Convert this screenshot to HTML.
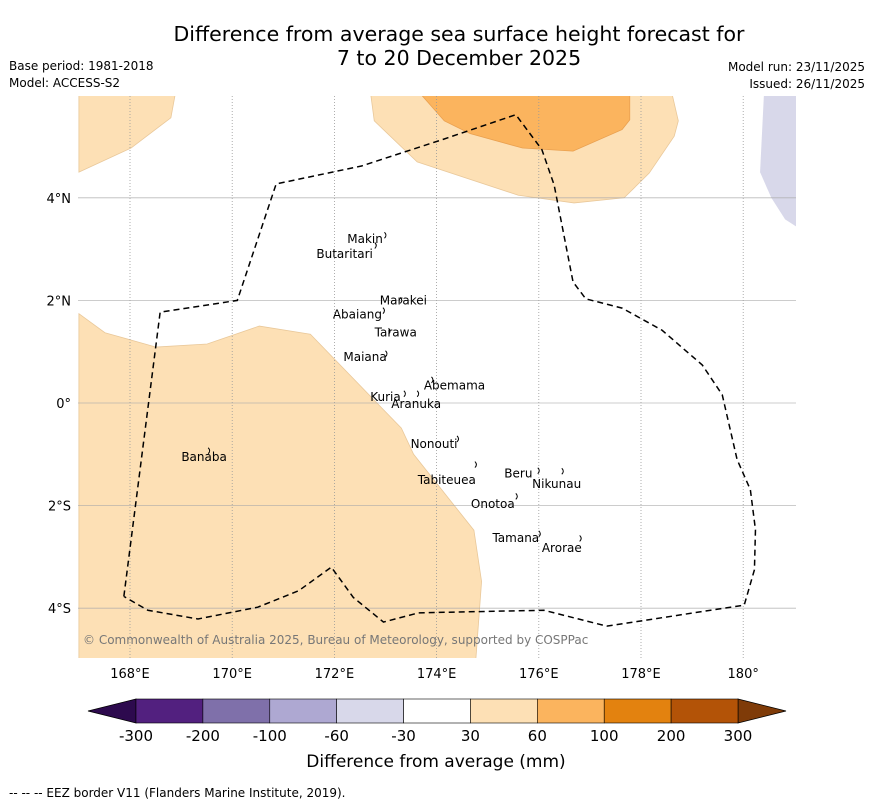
<!DOCTYPE html>
<html><head><meta charset="utf-8"><style>
html,body{margin:0;background:#fff;overflow:hidden;width:873px;height:804px;font-family:"DejaVu Sans","Liberation Sans",sans-serif}
svg{display:block}
svg text{font-family:"DejaVu Sans","Liberation Sans",sans-serif}
</style></head><body>
<svg id="c" width="873" height="804" viewBox="0 0 873 804" xmlns="http://www.w3.org/2000/svg">
<text x="459" y="41" font-size="20.5" text-anchor="middle">Difference from average sea surface height forecast for</text>
<text x="459" y="65" font-size="20.5" text-anchor="middle">7 to 20 December 2025</text>
<text x="9" y="70" font-size="12">Base period: 1981-2018</text>
<text x="9" y="87" font-size="12">Model: ACCESS-S2</text>
<text x="865" y="71" font-size="12" text-anchor="end">Model run: 23/11/2025</text>
<text x="865" y="88" font-size="12" text-anchor="end">Issued: 26/11/2025</text>
<defs><clipPath id="mc"><rect x="78" y="96" width="718" height="562"/></clipPath></defs>
<g id="map" clip-path="url(#mc)"></g>
<g id="axes"></g>
<g id="cbar"></g>
<text x="436" y="767" font-size="17" text-anchor="middle">Difference from average (mm)</text>
<text x="9" y="797" font-size="12">--  --  -- EEZ border V11 (Flanders Marine Institute, 2019).</text>
</svg>
<script>
const lonTicks=[168,170,172,174,176,178,180];
const lonLabels=["168°E","170°E","172°E","174°E","176°E","178°E","180°"];
const latTicks=[4,2,0,-2,-4];
const latLabels=["4°N","2°N","0°","2°S","4°S"];
const cbLevels=["-300","-200","-100","-60","-30","30","60","100","200","300"];
const cbColors=["#52207f","#7f70aa","#aea8d2","#d8d8ea","#ffffff","#fde0b5","#fbb45e","#e3820f","#b35307"];
const polyLight1=[[167,1.74],[167.51,1.37],[168.51,1.09],[169.51,1.15],[170.53,1.5],[171.53,1.34],[173.31,-0.49],[173.55,-1.0],[174.73,-2.48],[174.88,-3.48],[174.76,-5.1],[167,-5.1]];
const polyLight2=[[167,4.5],[168.02,4.97],[168.8,5.56],[168.9,6.1],[167,6.1]];
const polyLight3=[[172.7,6.1],[172.78,5.5],[173.62,4.7],[175.6,4.05],[176.69,3.9],[177.67,4.0],[178.16,4.48],[178.65,5.2],[178.73,5.5],[178.59,6.1]];
const polyOrange=[[173.62,6.1],[174.15,5.5],[174.66,5.25],[175.68,4.97],[176.67,4.91],[177.63,5.33],[177.78,5.52],[177.78,6.1]];
const polyBlue=[[181.1,6.1],[180.41,6.1],[180.33,4.5],[180.55,4.0],[180.82,3.58],[181.1,3.4]];
const eez=[[167.88,-3.77],[168.59,1.77],[170.1,2.0],[170.86,4.27],[172.53,4.62],[174.1,5.13],[175.55,5.62],[176.06,4.94],[176.3,4.25],[176.67,2.36],[176.92,2.03],[177.63,1.85],[178.41,1.42],[179.2,0.74],[179.59,0.16],[179.88,-1.1],[180.14,-1.69],[180.24,-2.47],[180.22,-3.25],[180.02,-3.94],[177.33,-4.35],[176.1,-4.04],[173.65,-4.09],[172.96,-4.27],[172.37,-3.79],[171.94,-3.2],[171.3,-3.66],[170.5,-3.98],[169.33,-4.21],[168.35,-4.04],[167.88,-3.77]];
const islands=[["Makin",3.2,172.98,3.27],["Butaritari",2.9,172.79,3.07],["Marakei",2.0,173.29,2.0],["Abaiang",1.73,172.95,1.8],["Tarawa",1.37,173.06,1.4],["Maiana",0.9,173.0,0.96],["Abemama",0.34,173.9,0.45],["Kuria",0.12,173.36,0.18],["Aranuka",-0.02,173.62,0.18],["Nonouti",-0.8,174.4,-0.7],["Banaba",-1.05,169.53,-0.93],["Tabiteuea",-1.5,174.75,-1.2],["Beru",-1.37,175.98,-1.32],["Nikunau",-1.58,176.45,-1.33],["Onotoa",-1.97,175.55,-1.82],["Tamana",-2.63,176.0,-2.55],["Arorae",-2.83,176.8,-2.64]];
const labelLon=[172.6,172.2,173.35,172.45,173.2,172.6,174.35,173.0,173.6,173.95,169.45,174.2,175.6,176.35,175.1,175.55,176.45];
</script>
<script>
const NS="http://www.w3.org/2000/svg";
const X=lon=>130+(lon-168)*51.1;
const Y=lat=>403-lat*51.3;
function mk(tag,attrs,parent){const e=document.createElementNS(NS,tag);for(const k in attrs)e.setAttribute(k,attrs[k]);parent.appendChild(e);return e;}
const map=document.getElementById('map'),axes=document.getElementById('axes'),cb=document.getElementById('cbar');
function poly(pts,fill,stroke,name){const p=mk('polygon',{points:pts.map(q=>X(q[0])+','+Y(q[1])).join(' '),fill:fill,stroke:stroke,'stroke-width':0.8},map);

}
poly(polyLight1,"#fde0b5","#e9c89a","anomaly-30-60-west");
poly(polyLight2,"#fde0b5","#e9c89a","anomaly-30-60-northwest");
poly(polyLight3,"#fde0b5","#e9c89a","anomaly-30-60-north");
poly(polyOrange,"#fbb45e","#e9a050","anomaly-60-100-north");
poly(polyBlue,"#d8d8ea","none","anomaly-minus-30-60-northeast");
lonTicks.forEach((t,i)=>{const l=mk('line',{x1:X(t),x2:X(t),y1:96,y2:658,stroke:'#999','stroke-width':0.8,'stroke-dasharray':'1,2'},map);


const tx=mk('text',{x:X(t),y:678,'font-size':13,'text-anchor':'middle'},axes);tx.textContent=lonLabels[i];

});
latTicks.forEach((t,i)=>{const l=mk('line',{x1:78,x2:796,y1:Y(t),y2:Y(t),stroke:'#aaa','stroke-width':0.8,opacity:0.8},map);


const tx=mk('text',{x:71,y:Y(t)+5,'font-size':13,'text-anchor':'end'},axes);tx.textContent=latLabels[i];

});
const e=mk('polyline',{points:eez.map(q=>X(q[0])+','+Y(q[1])).join(' '),fill:'none',stroke:'#000','stroke-width':1.5,'stroke-dasharray':'6,4'},map);


islands.forEach((d,i)=>{const t=mk('text',{x:X(labelLon[i]),y:Y(d[1])+4,'font-size':12,'text-anchor':'middle'},map);t.textContent=d[0];


const m=mk('path',{d:'M'+X(d[2])+','+(Y(d[3])-3)+' q3,3 0,6',fill:'none',stroke:'#000','stroke-width':1},map);

});
const cp=mk('text',{x:83,y:644,'font-size':12,fill:'#777'},map);cp.textContent="© Commonwealth of Australia 2025, Bureau of Meteorology, supported by COSPPac";


const cx0=136,cw=(738-136)/cbColors.length,cy=699,ch=24;
const lt=mk('polygon',{points:`${cx0},${cy} ${cx0},${cy+ch} 88,${cy+ch/2}`,fill:'#2d0a4e',stroke:'#000','stroke-width':0.8},cb);


const rt=mk('polygon',{points:`738,${cy} 738,${cy+ch} 786,${cy+ch/2}`,fill:'#7f3b08',stroke:'#000','stroke-width':0.8},cb);


cbColors.forEach((c,i)=>{const r=mk('rect',{x:cx0+i*cw,y:cy,width:cw,height:ch,fill:c,stroke:'#000','stroke-width':0.6},cb);

});
cbLevels.forEach((v,i)=>{const t=mk('text',{x:cx0+i*cw,y:741,'font-size':15,'text-anchor':'middle'},cb);t.textContent=v;

});
</script>
</body></html>
